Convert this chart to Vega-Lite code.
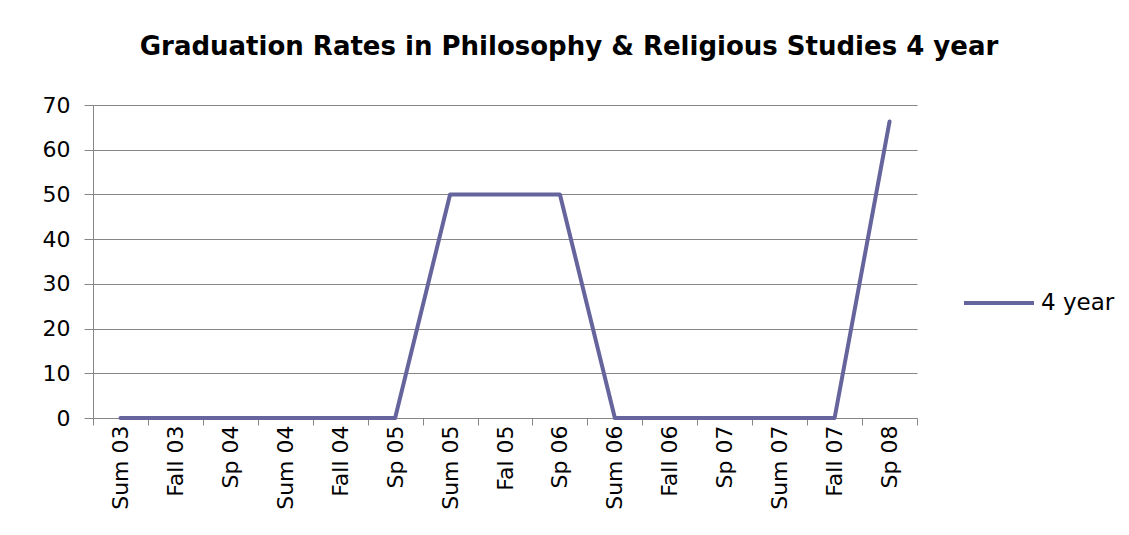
{
  "$schema": "https://vega.github.io/schema/vega-lite/v6.json",
  "autosize": "none",
  "width": 824,
  "height": 313,
  "padding": {"left": 93, "top": 105, "right": 212, "bottom": 117},
  "background": "white",
  "title": {
    "text": "Graduation Rates in Philosophy & Religious Studies 4 year",
    "font": "DejaVu Sans",
    "fontWeight": "bold",
    "fontSize": 26,
    "color": "#000000",
    "anchor": "middle",
    "frame": "group",
    "dx": 64,
    "offset": 34
  },
  "data": {
    "values": [
      {"term": "Sum 03", "rate": 0, "series": "4 year"},
      {"term": "Fall 03", "rate": 0, "series": "4 year"},
      {"term": "Sp 04", "rate": 0, "series": "4 year"},
      {"term": "Sum 04", "rate": 0, "series": "4 year"},
      {"term": "Fall 04", "rate": 0, "series": "4 year"},
      {"term": "Sp 05", "rate": 0, "series": "4 year"},
      {"term": "Sum 05", "rate": 50, "series": "4 year"},
      {"term": "Fal 05", "rate": 50, "series": "4 year"},
      {"term": "Sp 06", "rate": 50, "series": "4 year"},
      {"term": "Sum 06", "rate": 0, "series": "4 year"},
      {"term": "Fall 06", "rate": 0, "series": "4 year"},
      {"term": "Sp 07", "rate": 0, "series": "4 year"},
      {"term": "Sum 07", "rate": 0, "series": "4 year"},
      {"term": "Fall 07", "rate": 0, "series": "4 year"},
      {"term": "Sp 08", "rate": 66.3, "series": "4 year"}
    ]
  },
  "mark": {"type": "line", "strokeWidth": 4, "strokeCap": "round", "strokeJoin": "round"},
  "encoding": {
    "x": {
      "field": "term",
      "type": "nominal",
      "sort": null,
      "scale": {"type": "band", "paddingInner": 0, "paddingOuter": 0},
      "axis": {
        "title": null,
        "labelAngle": -90,
        "labelFont": "DejaVu Sans",
        "labelFontSize": 22,
        "labelColor": "#000000",
        "labelPadding": 0,
        "tickBand": "extent",
        "tickSize": 7,
        "tickColor": "#868686",
        "domainColor": "#868686",
        "grid": false
      }
    },
    "y": {
      "field": "rate",
      "type": "quantitative",
      "scale": {"domain": [0, 70], "nice": false},
      "axis": {
        "title": null,
        "values": [0, 10, 20, 30, 40, 50, 60, 70],
        "labelFont": "DejaVu Sans",
        "labelFontSize": 22,
        "labelColor": "#000000",
        "labelPadding": 14,
        "tickSize": 9,
        "tickColor": "#868686",
        "domainColor": "#868686",
        "gridColor": "#868686",
        "grid": true
      }
    },
    "color": {
      "field": "series",
      "type": "nominal",
      "scale": {"range": ["#65649C"]},
      "legend": {
        "title": null,
        "orient": "none",
        "legendX": 869,
        "legendY": 161,
        "symbolType": "stroke",
        "symbolSize": 4900,
        "symbolStrokeWidth": 4,
        "labelFont": "DejaVu Sans",
        "labelFontSize": 23,
        "labelColor": "#000000",
        "labelOffset": 5
      }
    }
  },
  "config": {"view": {"stroke": null}}
}
